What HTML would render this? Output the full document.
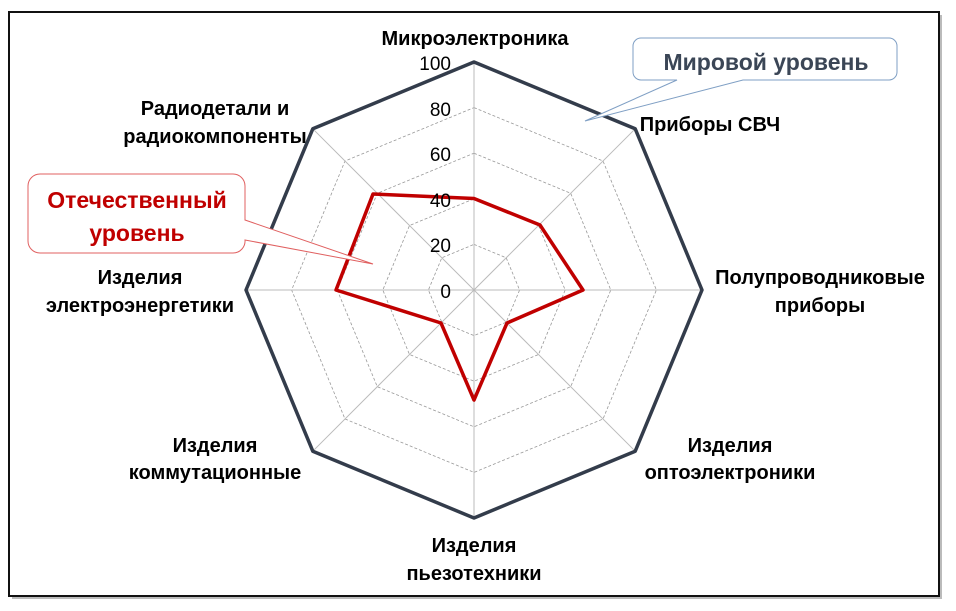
<!DOCTYPE html>
<html><head><meta charset="utf-8"><style>
body{margin:0;background:#fff;}
svg{display:block;font-family:"Liberation Sans",sans-serif;}
.c{font-weight:bold;font-size:20px;fill:#000;}
.t{font-size:19px;fill:#000;}
</style></head><body>
<svg width="956" height="611" viewBox="0 0 956 611">
<rect x="12" y="15" width="930" height="584" fill="#bbb"/>
<rect x="9" y="12" width="930" height="584" fill="#fff" stroke="#111" stroke-width="2"/>
<g fill="none" stroke="#999" stroke-width="0.8" stroke-dasharray="3,2">
<polygon points="474,244.4 506.2,257.8 519.6,290 506.2,322.2 474,335.6 441.8,322.2 428.4,290 441.8,257.8"/>
<polygon points="474,198.8 538.5,225.5 565.2,290 538.5,354.5 474,381.2 409.5,354.5 382.8,290 409.5,225.5"/>
<polygon points="474,153.2 570.7,193.3 610.8,290 570.7,386.7 474,426.8 377.3,386.7 337.2,290 377.3,193.3"/>
<polygon points="474,107.6 603,161 656.4,290 603,419 474,472.4 345,419 291.6,290 345,161"/>
</g>
<g stroke="#bbb" stroke-width="1">
<line x1="474" y1="290" x2="474" y2="62"/><line x1="474" y1="290" x2="635.2" y2="128.8"/>
<line x1="474" y1="290" x2="702" y2="290"/><line x1="474" y1="290" x2="635.2" y2="451.2"/>
<line x1="474" y1="290" x2="474" y2="518"/><line x1="474" y1="290" x2="312.8" y2="451.2"/>
<line x1="474" y1="290" x2="246" y2="290"/><line x1="474" y1="290" x2="312.8" y2="128.8"/>
</g>
<polygon points="474,62 635.2,128.8 702,290 635.2,451.2 474,518 312.8,451.2 246,290 312.8,128.8" fill="none" stroke="#333c4b" stroke-width="3.5" stroke-linejoin="round"/>
<polygon points="474,198.5 540,225 583,290 507,323 474,400 441,323 336,290 373,194" fill="none" stroke="#c00000" stroke-width="3.5" stroke-linejoin="round"/>
<g class="t" text-anchor="end">
<text x="451" y="70">100</text><text x="451" y="116">80</text><text x="451" y="161">60</text>
<text x="451" y="207">40</text><text x="451" y="252">20</text><text x="451" y="298">0</text>
</g>
<g class="c" text-anchor="middle">
<text x="475" y="45">Микроэлектроника</text>
<text x="710" y="131">Приборы СВЧ</text>
<text x="820" y="284">Полупроводниковые</text><text x="820" y="312">приборы</text>
<text x="730" y="452">Изделия</text><text x="730" y="479">оптоэлектроники</text>
<text x="474" y="552">Изделия</text><text x="474" y="580">пьезотехники</text>
<text x="215" y="452">Изделия</text><text x="215" y="479">коммутационные</text>
<text x="140" y="284">Изделия</text><text x="140" y="312">электроэнергетики</text>
<text x="215" y="115">Радиодетали и</text><text x="215" y="143">радиокомпоненты</text>
</g>
<path d="M641,38 H889 a8,8 0 0 1 8,8 V72 a8,8 0 0 1 -8,8 H743 L585,121 L677,80 H641 a8,8 0 0 1 -8,-8 V46 a8,8 0 0 1 8,-8 Z" fill="#fff" stroke="#7f9fc4" stroke-width="1"/>
<text x="766" y="70" text-anchor="middle" font-weight="bold" font-size="23" fill="#3b4656">Мировой уровень</text>
<path d="M40,174 H233 a12,12 0 0 1 12,12 V220 L373,264 L245,240 a12,12 0 0 1 -12,13 H40 a12,12 0 0 1 -12,-12 V186 a12,12 0 0 1 12,-12 Z" fill="#fff" stroke="#e06060" stroke-width="1"/>
<text x="137" y="208" text-anchor="middle" font-weight="bold" font-size="23" fill="#c00000">Отечественный</text>
<text x="137" y="241" text-anchor="middle" font-weight="bold" font-size="23" fill="#c00000">уровень</text>
</svg>
</body></html>
